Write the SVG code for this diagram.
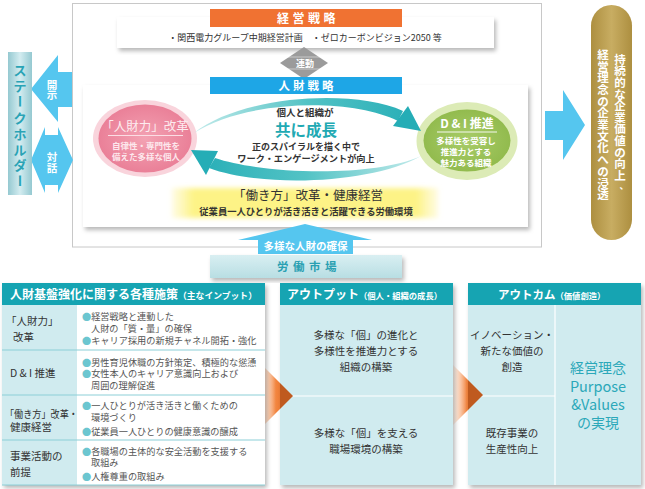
<svg xmlns="http://www.w3.org/2000/svg" width="645" height="489" viewBox="0 0 645 489">
<defs>
<style>
text{font-family:"Noto Sans CJK JP","Noto Sans",sans-serif;}
.w{fill:#fff;font-weight:bold}
.v{text-anchor:middle;dominant-baseline:central}
.bul{font-size:9.2px;fill:#555}
.dot{fill:#6cc6d0}
.lbl{font-size:10.5px;fill:#333}
.hd{fill:#fff;font-weight:bold}
.bd{font-size:10.5px;fill:#333;text-anchor:middle}
.c{text-anchor:middle}
.rowline{stroke:#8ccfd7;stroke-width:1}
.wl{stroke:#fff;stroke-width:1.2}
.lb{fill:#55c6ef}
.sk{font-size:13px;fill:#2aa3b5;font-weight:bold}
.gd{font-size:11.5px}
</style>
<filter id="sh" x="-10%" y="-10%" width="125%" height="130%"><feDropShadow dx="2" dy="3" stdDeviation="2" flood-color="#000" flood-opacity="0.28"/></filter>
<filter id="blur" x="-10%" y="-30%" width="120%" height="160%"><feGaussianBlur stdDeviation="2.5"/></filter>
<linearGradient id="gStake" x1="0" x2="1" y1="0" y2="0"><stop offset="0" stop-color="#95c9d1"/><stop offset="0.5" stop-color="#d3ecf0"/><stop offset="1" stop-color="#95c9d1"/></linearGradient>
<linearGradient id="gGold" x1="0" x2="1" y1="0" y2="0"><stop offset="0" stop-color="#ad8f40"/><stop offset="0.5" stop-color="#c8ad62"/><stop offset="1" stop-color="#ad8f40"/></linearGradient>
<linearGradient id="gMarket" x1="0" x2="0" y1="0" y2="1"><stop offset="0" stop-color="#d9eff2"/><stop offset="1" stop-color="#b8dee3"/></linearGradient>
<linearGradient id="gYellow" x1="0" x2="1" y1="0" y2="0"><stop offset="0" stop-color="#fdf4a0" stop-opacity="0.3"/><stop offset="0.08" stop-color="#fdf386"/><stop offset="0.92" stop-color="#fdf386"/><stop offset="1" stop-color="#fdf4a0" stop-opacity="0.3"/></linearGradient>
<radialGradient id="gPink" cx="0.5" cy="0.5" r="0.5"><stop offset="0" stop-color="#f3a2b3"/><stop offset="1" stop-color="#ea8098"/></radialGradient>
<radialGradient id="gGreen" cx="0.5" cy="0.5" r="0.5"><stop offset="0" stop-color="#a8cc68"/><stop offset="1" stop-color="#92bb4e"/></radialGradient>
<linearGradient id="gArrTop" gradientUnits="userSpaceOnUse" x1="194" y1="0" x2="420" y2="0"><stop offset="0" stop-color="#c3ebeb"/><stop offset="0.5" stop-color="#53c3c5"/><stop offset="1" stop-color="#25adb6"/></linearGradient>
<linearGradient id="gArrBot" gradientUnits="userSpaceOnUse" x1="421" y1="0" x2="192" y2="0"><stop offset="0" stop-color="#c3ebeb"/><stop offset="0.5" stop-color="#53c3c5"/><stop offset="1" stop-color="#25adb6"/></linearGradient>
<linearGradient id="gOr" x1="0" x2="1" y1="0" y2="0"><stop offset="0" stop-color="#ffffff" stop-opacity="0"/><stop offset="0.55" stop-color="#f2853f"/><stop offset="1" stop-color="#ee6a1f"/></linearGradient>
</defs>

<rect width="645" height="489" fill="#fff"/>

<!-- outer frame -->
<g id="frame">
<rect x="72.5" y="3.5" width="469" height="243.5" fill="#fff" stroke="#c8c8c8" stroke-width="1"/>
</g>

<!-- management strategy -->
<g id="keiei">
<rect x="117" y="17" width="377" height="31" fill="#fff" filter="url(#sh)"/>
<rect x="210" y="9" width="192" height="18" fill="#f07232"/>
<text x="308" y="22.5" class="w c" font-size="12" letter-spacing="3.5">経営戦略</text>
<text x="305" y="41" class="c" font-size="9" fill="#333">・関西電力グループ中期経営計画　・ゼロカーボンビジョン2050 等</text>
</g>

<!-- link -->
<g id="rendo">
<polygon points="304,47 328,63 304,79 280,63" fill="#9b9b9b"/>
<line x1="287" y1="57" x2="321" y2="57" stroke="#fff" stroke-opacity="0.6" stroke-width="0.8"/>
<line x1="287" y1="69" x2="321" y2="69" stroke="#fff" stroke-opacity="0.6" stroke-width="0.8"/>
<text x="305" y="66.5" class="w c" font-size="9">連動</text>
</g>

<!-- HR strategy box -->
<g id="jinzai">
<rect x="83" y="85" width="445" height="142" fill="#fff" filter="url(#sh)"/>
<rect x="210" y="77" width="192" height="17" fill="#1ea6e6"/>
<text x="307.5" y="90" class="w c" font-size="11.5" letter-spacing="3">人財戦略</text>
</g>

<g id="jinzairyoku">
<ellipse cx="145" cy="138.5" rx="52" ry="38.5" fill="#f9d4dc"/>
<ellipse cx="145" cy="138.5" rx="46.5" ry="34" fill="url(#gPink)"/>
<text x="145" y="131" class="c" font-size="12.5" fill="#fdebef">「人財力」改革</text>
<line x1="108" y1="135.5" x2="183" y2="135.5" stroke="#fbdde4" stroke-width="1"/>
<text x="146" y="149" class="c" font-size="8.5" fill="#fde8ed" font-weight="bold">自律性・専門性を</text>
<text x="146" y="160" class="c" font-size="8.5" fill="#fde8ed" font-weight="bold">備えた多様な個人</text>
</g>

<g id="dandi">
<ellipse cx="467" cy="141" rx="50.5" ry="39" fill="#dcebb6"/>
<ellipse cx="467" cy="140.5" rx="43.5" ry="31" fill="url(#gGreen)"/>
<text x="467" y="128" class="w c" font-size="12">D &amp; I 推進</text>
<line x1="437" y1="132" x2="497" y2="132" stroke="#fff" stroke-width="0.9"/>
<text x="466" y="143.5" class="w c" font-size="8.5">多様性を受容し</text>
<text x="466" y="155" class="w c" font-size="8.5">推進力とする</text>
<text x="466" y="166" class="w c" font-size="8.5">魅力ある組織</text>
</g>

<!-- connectors -->
<g id="connectors">
<path d="M194,133 C240,96 352,88 403,111 L398,121 C350,97 245,100 194,133 Z" fill="url(#gArrTop)"/>
<polygon points="408,106 421,131 393,126" fill="#25adb6"/>
<path d="M421,156 C372,178 262,174 215,158 L209,168 C262,188 372,184 421,156 Z" fill="url(#gArrBot)"/>
<polygon points="191,150 218,151 206,175" fill="#25adb6"/>
<!-- disclosure arrow -->
<polygon class="lb" points="31,89 58,55 58,72 72,72 72,107 58,107 58,122"/>
<!-- dialogue arrow -->
<polygon class="lb" points="31,160 45,127 45,135 58,135 58,127 73,160 58,193 58,185 45,185 45,193"/>
<!-- right arrow -->
<polygon class="lb" points="545,111 563,111 563,90 585,125 563,160 563,140 545,140"/>
<!-- up arrow -->
<polygon class="lb" points="305,224 372,240 353,240 353,254 258,254 258,240 238,240"/>
<!-- orange arrows -->
<polygon points="255,358 293,396 255,434" fill="url(#gOr)"/>
<polygon points="447,359 483,395 447,431" fill="url(#gOr)"/>
</g>

<g id="center">
<text x="305" y="116" class="c" font-size="9.5" fill="#333" font-weight="bold">個人と組織が</text>
<text x="306" y="136" class="c" font-size="15.5" fill="#21a9b3" font-weight="bold">共に成長</text>
<text x="306" y="150" class="c" font-size="9" fill="#333" font-weight="bold">正のスパイラルを描く中で</text>
<text x="306" y="162" class="c" font-size="9.2" fill="#333" font-weight="bold">ワーク・エンゲージメントが向上</text>
</g>

<g id="hatarakikata">
<rect x="172" y="188" width="266" height="30" fill="url(#gYellow)" filter="url(#blur)"/>
<text x="308" y="200" class="c" font-size="12.5" fill="#333">「働き方」改革・健康経営</text>
<text x="306" y="215" class="c" font-size="9.3" fill="#333" font-weight="bold">従業員一人ひとりが活き活きと活躍できる労働環境</text>
</g>

<g id="kakuho">
<text x="305.5" y="250" class="w c" font-size="10.5">多様な人財の確保</text>
</g>

<g id="roudou">
<rect x="210" y="255" width="192" height="23" fill="url(#gMarket)" filter="url(#sh)"/>
<text x="309" y="271" class="c" font-size="11.5" fill="#2aa0b2" font-weight="bold" letter-spacing="4.5">労働市場</text>
</g>

<g id="stakeholder">
<rect x="8" y="52" width="24" height="143" fill="url(#gStake)"/>
<text class="v sk" x="20 20 20 20 20 20" y="69.5 85.4 117.2 133.1 149 164.9">ステクホルダ</text>
<text class="v sk" x="20" y="101.3" transform="rotate(90 20 101.3)">ー</text>
<text class="v sk" x="20" y="180.8" transform="rotate(90 20 180.8)">ー</text>
</g>

<g id="kaiji">
<text class="v w" font-size="10.5" x="52 52" y="84 94.5">開示</text>
</g>
<g id="taiwa">
<text class="v w" font-size="10.5" x="52 52" y="156.5 167">対話</text>
</g>

<g id="goal">
<rect x="591" y="5" width="41" height="235" rx="20.5" fill="url(#gGold)"/>
<text class="v w gd" x="620 620 620 620 620 620 620 620 620 620 620" y="58.8 70.4 82 93.6 105.2 116.8 128.4 140 151.6 163.2 174.8">持続的な企業価値の向上</text>
<text class="v w" font-size="9" x="624" y="185">、</text>
<text class="v w gd" x="603 603 603 603 603 603 603 603 603 603 603 603 603" y="53.8 65.5 77.2 88.9 100.6 112.3 124 135.7 147.4 159.1 170.8 182.5 194.2">経営理念の企業文化への浸透</text>
</g>

<!-- input table -->
<g id="input">
<g filter="url(#sh)">
<rect x="2" y="305" width="75" height="180" fill="#d0ebef"/>
<rect x="77" y="305" width="188" height="180" fill="#fff"/>
<rect x="2" y="283" width="263" height="22" fill="#17a4b2"/>
</g>
<line class="rowline" x1="2" y1="350" x2="265" y2="350"/>
<line class="rowline" x1="2" y1="395" x2="265" y2="395"/>
<line class="rowline" x1="2" y1="440" x2="265" y2="440"/>
<line class="rowline" x1="2" y1="485" x2="265" y2="485"/>
<text x="10" y="299" class="hd" font-size="12">人財基盤強化に関する各種施策<tspan font-size="8.8">（主なインプット）</tspan></text>

<text x="6" y="325" class="lbl">「人財力」</text>
<text x="13" y="341" class="lbl">改革</text>
<text x="82" y="319.5" class="bul"><tspan class="dot">●</tspan>経営戦略と連動した</text>
<text x="91" y="331.5" class="bul">人財の「質・量」の確保</text>
<text x="82" y="343.5" class="bul"><tspan class="dot">●</tspan>キャリア採用の新規チャネル開拓・強化</text>

<text x="10" y="377" class="lbl">D &amp; I 推進</text>
<text x="82" y="365.5" class="bul"><tspan class="dot">●</tspan>男性育児休職の方針策定、積極的な慫慂</text>
<text x="82" y="377" class="bul"><tspan class="dot">●</tspan>女性本人のキャリア意識向上および</text>
<text x="91" y="389" class="bul">周囲の理解促進</text>

<text x="5" y="418" class="lbl" textLength="73" lengthAdjust="spacingAndGlyphs">「働き方」改革・</text>
<text x="10" y="431" class="lbl">健康経営</text>
<text x="82" y="409" class="bul"><tspan class="dot">●</tspan>一人ひとりが活き活きと働くための</text>
<text x="91" y="421" class="bul">環境づくり</text>
<text x="82" y="434.5" class="bul"><tspan class="dot">●</tspan>従業員一人ひとりの健康意識の醸成</text>

<text x="10" y="460" class="lbl">事業活動の</text>
<text x="10" y="475.5" class="lbl">前提</text>
<text x="82" y="454.5" class="bul"><tspan class="dot">●</tspan>各職場の主体的な安全活動を支援する</text>
<text x="91" y="466" class="bul">取組み</text>
<text x="82" y="479.5" class="bul"><tspan class="dot">●</tspan>人権尊重の取組み</text>
</g>

<!-- output table -->
<g id="output">
<g filter="url(#sh)">
<rect x="280" y="305" width="173" height="180" fill="#d0ebef"/>
<rect x="280" y="283" width="173" height="22" fill="#17a4b2"/>
</g>
<line class="wl" x1="280" y1="396" x2="453" y2="396"/>
<text x="287" y="299" class="hd" font-size="12">アウトプット<tspan font-size="8.3">（個人・組織の成長）</tspan></text>
<text x="366" y="339" class="bd">多様な「個」の進化と</text>
<text x="366" y="355" class="bd">多様性を推進力とする</text>
<text x="366" y="371" class="bd">組織の構築</text>
<text x="366" y="437" class="bd">多様な「個」を支える</text>
<text x="366" y="453" class="bd">職場環境の構築</text>
</g>

<!-- outcome table -->
<g id="outcome">
<g filter="url(#sh)">
<rect x="468" y="305" width="173" height="180" fill="#d0ebef"/>
<rect x="468" y="283" width="173" height="22" fill="#17a4b2"/>
</g>
<line class="wl" x1="555" y1="305" x2="555" y2="485"/>
<line class="wl" x1="468" y1="396" x2="555" y2="396"/>
<text x="498" y="299" class="hd" font-size="11.5">アウトカム<tspan font-size="8.3">（価値創造）</tspan></text>
<text x="512" y="339" class="bd">イノベーション・</text>
<text x="512" y="355" class="bd">新たな価値の</text>
<text x="512" y="371" class="bd">創造</text>
<text x="512" y="437" class="bd">既存事業の</text>
<text x="512" y="453" class="bd">生産性向上</text>
<text x="598" y="373" class="c" font-size="14" fill="#2ba8b9">経営理念</text>
<text x="598" y="392" class="c" font-size="14.5" fill="#2ba8b9">Purpose</text>
<text x="598" y="410" class="c" font-size="14.5" fill="#2ba8b9">&amp;Values</text>
<text x="598" y="428" class="c" font-size="14" fill="#2ba8b9">の実現</text>
</g>

<!-- dark tips of orange arrows over boxes -->
<g id="arrow-tips">
<polygon points="280,383 293,396 280,409" fill="#bf5a1f"/>
<polygon points="468,380 483,395 468,410" fill="#bf5a1f"/>
</g>
</svg>
